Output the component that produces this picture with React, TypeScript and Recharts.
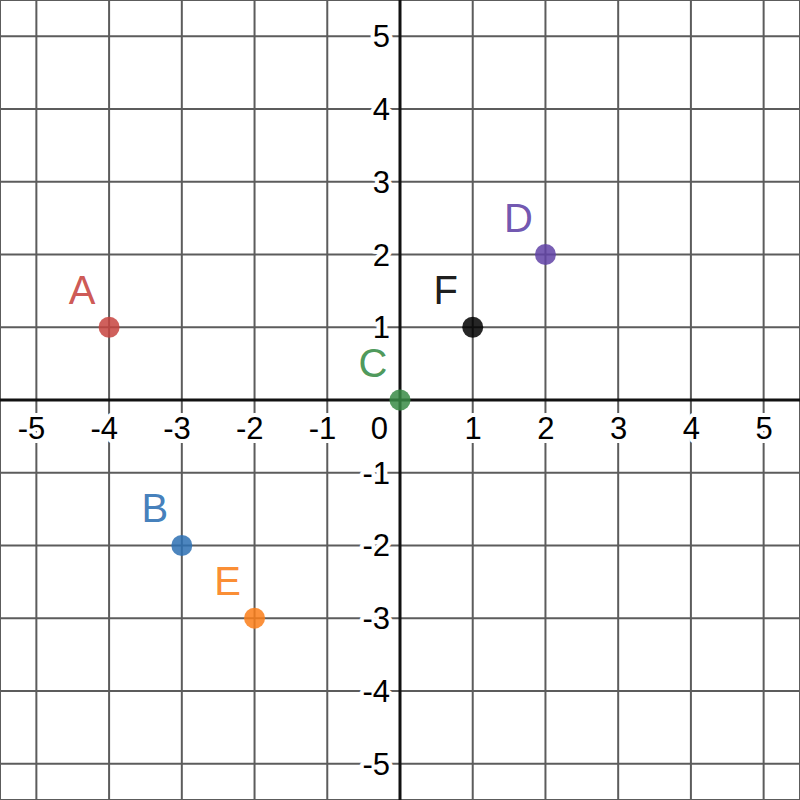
import { ScatterChart, Scatter, XAxis, YAxis, CartesianGrid, ReferenceLine } from "recharts"

const pointNames = ["A", "B", "C", "D", "E", "F"]
const pointX = [-4, -3, 0, 2, -2, 1]
const pointY = [1, -2, 0, 2, -3, 1]
const pointColors = ["#c74440", "#2d70b3", "#388c46", "#6042a6", "#fa7e19", "#000000"]

const xTicks = [-5, -4, -3, -2, -1, 0, 1, 2, 3, 4, 5]
const yTicks = [-5, -4, -3, -2, -1, 0, 1, 2, 3, 4, 5]
const xRange = [-5.5, 5.5]
const yRange = [-5.5, 5.5]

const FONT = "'Liberation Sans', Arial, sans-serif"

const xLabelData = xTicks.map((v) => ({ x: v, y: 0, v }))
const yLabelData = yTicks.filter((v) => v !== 0).map((v) => ({ x: 0, y: v, v }))

const XTickLabel = (props: any) => {
  const { cx, cy, payload } = props
  const zero = payload.v === 0
  return (
    <text
      x={zero ? cx - 12 : cx + 9}
      y={cy + 39}
      textAnchor="end"
      fontFamily={FONT}
      fontSize={31}
      fill="#000"
      stroke="#fff"
      strokeWidth={8}
      paintOrder="stroke"
      strokeLinejoin="round"
    >
      {payload.v}
    </text>
  )
}

const YTickLabel = (props: any) => {
  const { cx, cy, payload } = props
  return (
    <text
      x={cx - 10}
      y={cy + 11}
      textAnchor="end"
      fontFamily={FONT}
      fontSize={31}
      fill="#000"
      stroke="#fff"
      strokeWidth={8}
      paintOrder="stroke"
      strokeLinejoin="round"
    >
      {payload.v}
    </text>
  )
}

const makePoint = (name: string, color: string) => (props: any) => {
  const { cx, cy } = props
  return (
    <g>
      <circle cx={cx} cy={cy} r={10.5} fill={color} fillOpacity={0.85} />
      <text
        x={cx - 27}
        y={cy - 23}
        textAnchor="middle"
        fontFamily={FONT}
        fontSize={40}
        fill={color}
        fillOpacity={0.9}
      >
        {name}
      </text>
    </g>
  )
}

export default function App() {
  return (
    <div style={{ position: "absolute", left: 0, top: 0, width: 800, height: 800, background: "#fff" }}>
      <ScatterChart width={800} height={800} margin={{ top: 0, right: 0, bottom: 0, left: 0 }}>
        <CartesianGrid stroke="#5c5c5c" strokeWidth={2} />
        <XAxis type="number" dataKey="x" domain={xRange} ticks={xTicks} hide allowDataOverflow />
        <YAxis type="number" dataKey="y" domain={yRange} ticks={yTicks} hide allowDataOverflow />
        <ReferenceLine x={0} stroke="#111" strokeWidth={3} />
        <ReferenceLine y={0} stroke="#111" strokeWidth={3} />
        <Scatter data={xLabelData} shape={XTickLabel} isAnimationActive={false} />
        <Scatter data={yLabelData} shape={YTickLabel} isAnimationActive={false} />
        {pointNames.map((name, i) => (
          <Scatter
            key={name}
            data={[{ x: pointX[i], y: pointY[i] }]}
            shape={makePoint(name, pointColors[i])}
            isAnimationActive={false}
          />
        ))}
      </ScatterChart>
    </div>
  )
}
